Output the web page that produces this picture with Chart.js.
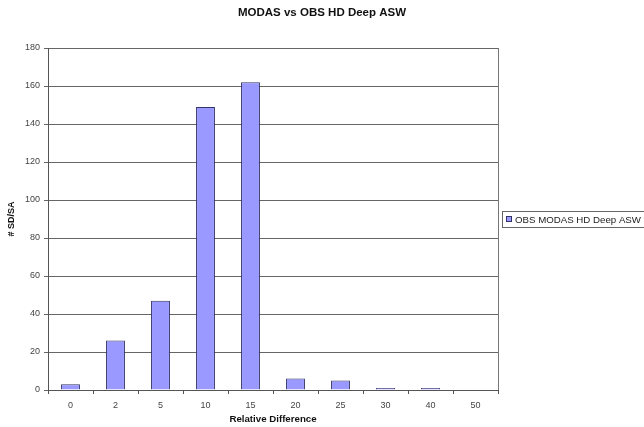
<!DOCTYPE html>
<html>
<head>
<meta charset="utf-8">
<script src="https://cdn.jsdelivr.net/npm/chart.js@4/dist/chart.umd.min.js"></script>
<style>
  html, body { margin: 0; padding: 0; background: #fff; }
  #wrap { width: 644px; height: 427px; position: relative; }
</style>
</head>
<body>
<div id="wrap"><canvas id="histChart"></canvas></div>
<script>
// 数据
const chartTitle = 'MODAS vs OBS HD Deep ASW';
const categories = ['0', '2', '5', '10', '15', '20', '25', '30', '40', '50'];
const seriesName = 'OBS MODAS HD Deep ASW';
const seriesValues = [3, 26, 47, 149, 162, 6, 5, 1, 1, 0];
const yTicks = [0, 20, 40, 60, 80, 100, 120, 140, 160, 180];

const FONT = '"Liberation Sans", Arial, sans-serif';

// 标题、图例框和右边框
const boxLegend = {
    id: 'boxLegend',
    afterDraw(chart) {
        const ctx = chart.ctx;
        const a = chart.chartArea;
        ctx.save();
        // 标题（整幅居中）
        ctx.fillStyle = '#111';
        ctx.font = 'bold 11.5px ' + FONT;
        ctx.textAlign = 'center';
        ctx.textBaseline = 'middle';
        ctx.fillText(chartTitle, chart.width / 2, 13);

        // 绘图区右边线
        ctx.strokeStyle = '#777';
        ctx.lineWidth = 1;
        ctx.beginPath();
        ctx.moveTo(a.right + 0.5, a.top);
        ctx.lineTo(a.right + 0.5, a.bottom);
        ctx.stroke();

        // 图例
        const x = a.right + 4, y = Math.round((a.top + a.bottom) / 2) - 8;
        const w = 142, h = 16;
        ctx.strokeStyle = '#666';
        ctx.strokeRect(x + 0.5, y + 0.5, w, h);
        ctx.fillStyle = '#9999ff';
        ctx.fillRect(x + 4, y + 5, 6, 6);
        ctx.strokeStyle = '#333366';
        ctx.strokeRect(x + 4.5, y + 5.5, 5, 5);
        ctx.fillStyle = '#222';
        ctx.font = '9.7px ' + FONT;
        ctx.textAlign = 'left';
        ctx.fillText(seriesName, x + 13, y + h / 2 + 1);
        ctx.restore();
    }
};

const ctx = document.getElementById('histChart').getContext('2d');
new Chart(ctx, {
    type: 'bar',
    data: {
        labels: categories,
        datasets: [{
            label: seriesName,
            data: seriesValues,
            backgroundColor: '#9999ff',
            borderColor: '#333366',
            borderWidth: 1,
            categoryPercentage: 1.0,
            barPercentage: 0.42
        }]
    },
    options: {
        responsive: true,
        maintainAspectRatio: false,
        animation: false,
        layout: {
            padding: { top: 48, right: 146, bottom: 0, left: 0 }
        },
        plugins: {
            legend: { display: false },
            tooltip: { enabled: false },
            title: { display: false }
        },
        scales: {
            x: {
                offset: true,
                grid: {
                    offset: true,
                    drawOnChartArea: false,
                    drawTicks: true,
                    tickLength: 4,
                    color: '#555'
                },
                border: { color: '#555' },
                ticks: {
                    color: '#444',
                    padding: 6,
                    maxRotation: 0,
                    font: { family: FONT, size: 9 }
                },
                title: {
                    display: true,
                    text: 'Relative Difference',
                    color: '#111',
                    font: { family: FONT, size: 9.7, weight: 'bold' },
                    padding: { top: 0, bottom: 2 }
                },
                afterFit(scale) { scale.height = 37; }
            },
            y: {
                min: 0,
                max: 180,
                afterBuildTicks(scale) {
                    scale.ticks = yTicks.map(v => ({ value: v }));
                },
                grid: {
                    color: '#666',
                    drawTicks: true,
                    tickLength: 4
                },
                border: { color: '#555' },
                ticks: {
                    color: '#444',
                    padding: 4,
                    font: { family: FONT, size: 9 }
                },
                title: {
                    display: true,
                    text: '# SD/SA',
                    color: '#111',
                    font: { family: FONT, size: 9, weight: 'bold' },
                    padding: { top: 6, bottom: 0 }
                },
                afterFit(scale) { scale.width = 48; }
            }
        }
    },
    plugins: [boxLegend]
});
</script>
</body>
</html>
